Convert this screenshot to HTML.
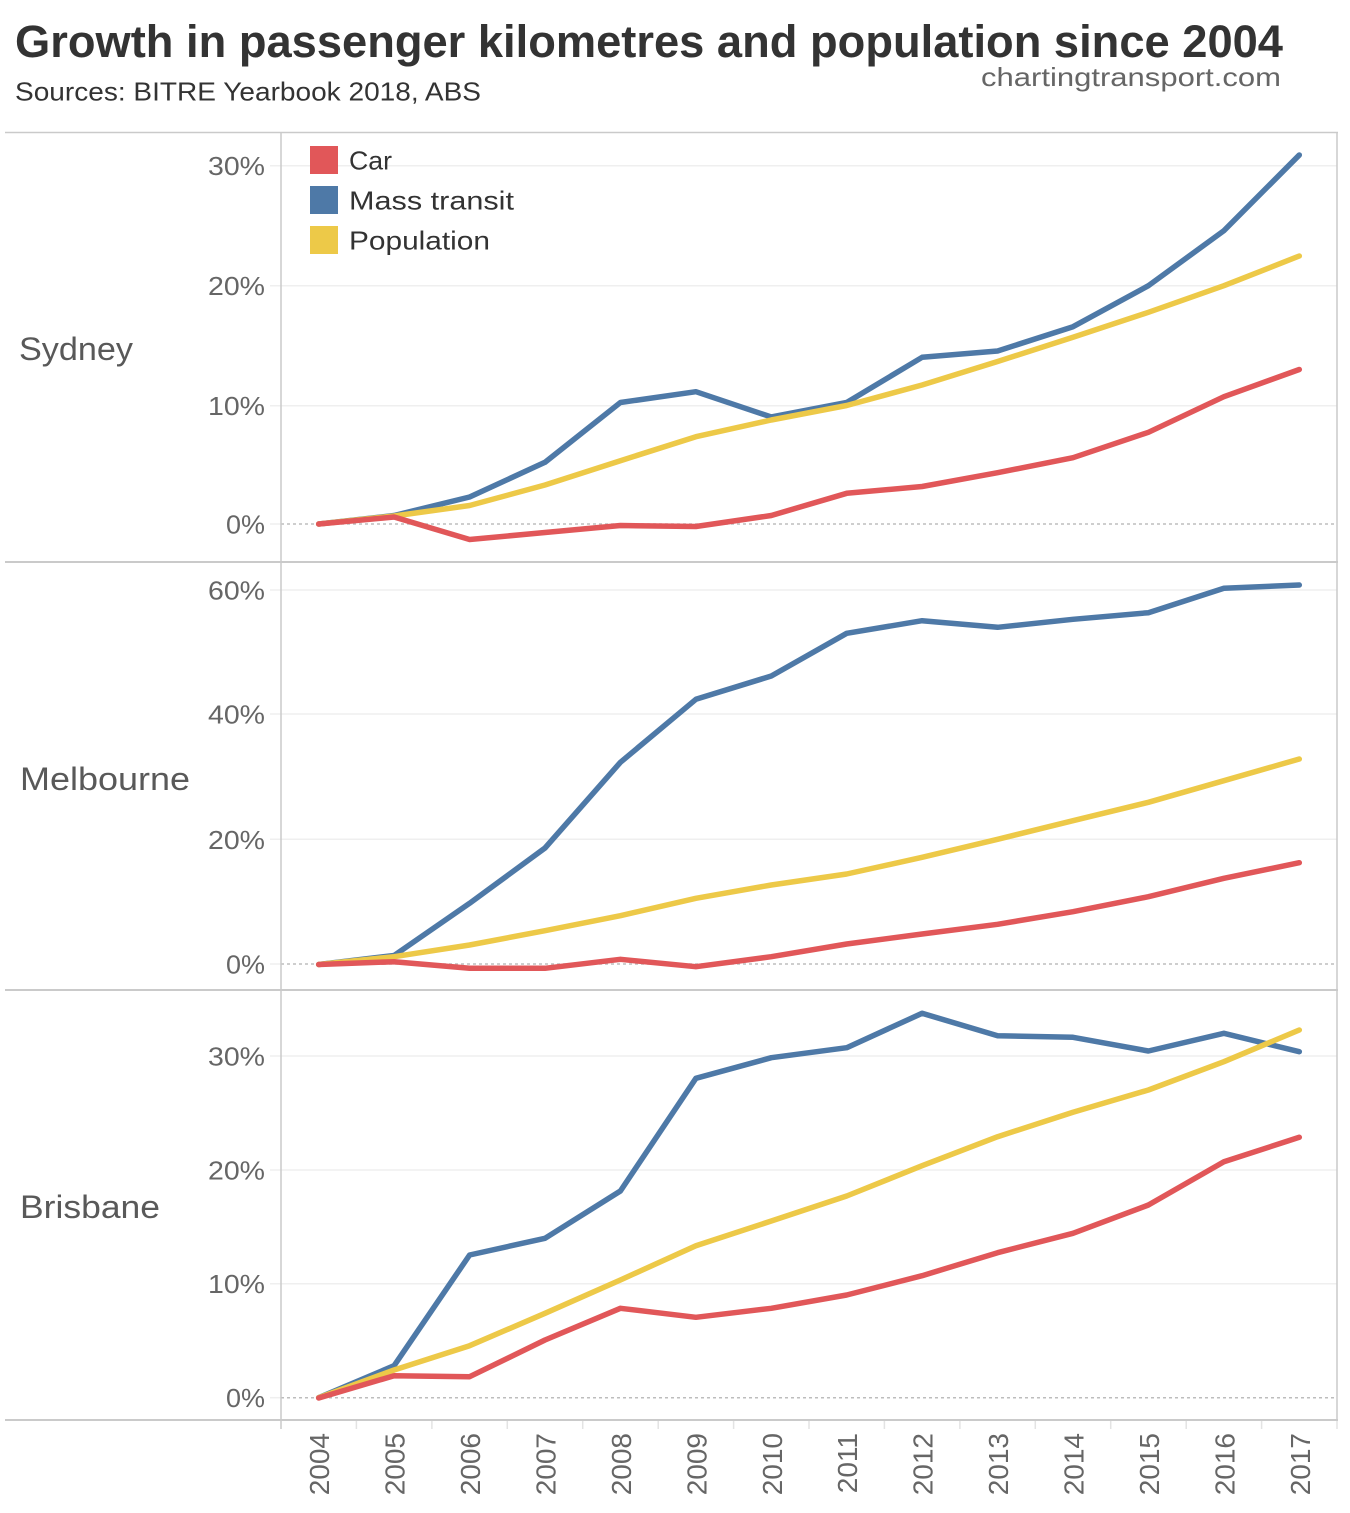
<!DOCTYPE html>
<html><head><meta charset="utf-8"><style>
html,body{margin:0;padding:0;background:#fff;}
svg{display:block;}
text{font-family:"Liberation Sans",Arial,sans-serif;}
</style></head><body>
<svg width="1350" height="1513" viewBox="0 0 1350 1513" xmlns="http://www.w3.org/2000/svg">
<rect width="1350" height="1513" fill="#fff"/>
<!-- Title -->
<text x="15" y="57" font-size="45" font-weight="bold" fill="#333" textLength="1268" lengthAdjust="spacingAndGlyphs">Growth in passenger kilometres and population since 2004</text>
<text x="15" y="100.5" font-size="26" fill="#333" textLength="466" lengthAdjust="spacingAndGlyphs">Sources: BITRE Yearbook 2018, ABS</text>
<text x="981" y="86" font-size="26" fill="#666" textLength="300" lengthAdjust="spacingAndGlyphs">chartingtransport.com</text>

<!-- gridlines -->
<g stroke="#efefef" stroke-width="1.5">
<line x1="270" y1="165.7" x2="1337" y2="165.7"/>
<line x1="270" y1="285.7" x2="1337" y2="285.7"/>
<line x1="270" y1="405.7" x2="1337" y2="405.7"/>
<line x1="270" y1="524" x2="281" y2="524"/>
<line x1="270" y1="590" x2="1337" y2="590"/>
<line x1="270" y1="714" x2="1337" y2="714"/>
<line x1="270" y1="839.3" x2="1337" y2="839.3"/>
<line x1="270" y1="964" x2="281" y2="964"/>
<line x1="270" y1="1056" x2="1337" y2="1056"/>
<line x1="270" y1="1170" x2="1337" y2="1170"/>
<line x1="270" y1="1283.7" x2="1337" y2="1283.7"/>
<line x1="270" y1="1397.7" x2="281" y2="1397.7"/>
</g>
<!-- zero lines dashed -->
<g stroke="#bdbdbd" stroke-width="1.5" stroke-dasharray="3,3">
<line x1="281" y1="524" x2="1337" y2="524"/>
<line x1="281" y1="964" x2="1337" y2="964"/>
<line x1="281" y1="1397.7" x2="1337" y2="1397.7"/>
</g>

<!-- frame -->
<g stroke="#cacaca">
<line x1="5" y1="132.5" x2="1338" y2="132.5" stroke-width="1.5"/>
<line x1="5" y1="562" x2="1338" y2="562" stroke-width="2"/>
<line x1="5" y1="990" x2="1338" y2="990" stroke-width="2"/>
<line x1="5" y1="1420" x2="1338" y2="1420" stroke-width="2"/>
<line x1="281" y1="132" x2="281" y2="1429" stroke-width="1.5"/>
<line x1="1337" y1="132" x2="1337" y2="1420" stroke-width="1.5"/>
</g>
<!-- x ticks -->
<g stroke="#e3e3e3" stroke-width="1.5">
<line x1="356.4" y1="1421" x2="356.4" y2="1429"/>
<line x1="431.9" y1="1421" x2="431.9" y2="1429"/>
<line x1="507.3" y1="1421" x2="507.3" y2="1429"/>
<line x1="582.7" y1="1421" x2="582.7" y2="1429"/>
<line x1="658.2" y1="1421" x2="658.2" y2="1429"/>
<line x1="733.6" y1="1421" x2="733.6" y2="1429"/>
<line x1="809.0" y1="1421" x2="809.0" y2="1429"/>
<line x1="884.4" y1="1421" x2="884.4" y2="1429"/>
<line x1="959.9" y1="1421" x2="959.9" y2="1429"/>
<line x1="1035.3" y1="1421" x2="1035.3" y2="1429"/>
<line x1="1110.7" y1="1421" x2="1110.7" y2="1429"/>
<line x1="1186.2" y1="1421" x2="1186.2" y2="1429"/>
<line x1="1261.6" y1="1421" x2="1261.6" y2="1429"/>
<line x1="1337" y1="1421" x2="1337" y2="1429"/>
</g>

<!-- y labels -->
<g font-size="26" fill="#666" text-anchor="end">
<text x="265" y="175.2" textLength="57" lengthAdjust="spacingAndGlyphs">30%</text>
<text x="265" y="295.2" textLength="57" lengthAdjust="spacingAndGlyphs">20%</text>
<text x="265" y="415.2" textLength="57" lengthAdjust="spacingAndGlyphs">10%</text>
<text x="265" y="533.5" textLength="39" lengthAdjust="spacingAndGlyphs">0%</text>
<text x="265" y="599.5" textLength="57" lengthAdjust="spacingAndGlyphs">60%</text>
<text x="265" y="723.5" textLength="57" lengthAdjust="spacingAndGlyphs">40%</text>
<text x="265" y="848.8" textLength="57" lengthAdjust="spacingAndGlyphs">20%</text>
<text x="265" y="973.5" textLength="39" lengthAdjust="spacingAndGlyphs">0%</text>
<text x="265" y="1065.5" textLength="57" lengthAdjust="spacingAndGlyphs">30%</text>
<text x="265" y="1179.5" textLength="57" lengthAdjust="spacingAndGlyphs">20%</text>
<text x="265" y="1293.2" textLength="57" lengthAdjust="spacingAndGlyphs">10%</text>
<text x="265" y="1407.2" textLength="39" lengthAdjust="spacingAndGlyphs">0%</text>
</g>

<!-- pane labels -->
<g font-size="32" fill="#595959">
<text x="19" y="360" textLength="114" lengthAdjust="spacingAndGlyphs">Sydney</text>
<text x="20" y="790" textLength="170" lengthAdjust="spacingAndGlyphs">Melbourne</text>
<text x="20" y="1218" textLength="140" lengthAdjust="spacingAndGlyphs">Brisbane</text>
</g>

<!-- x labels -->
<g font-size="28" fill="#666" text-anchor="end">
<text transform="translate(329.2,1433) rotate(-90)">2004</text>
<text transform="translate(404.6,1433) rotate(-90)">2005</text>
<text transform="translate(480.1,1433) rotate(-90)">2006</text>
<text transform="translate(555.5,1433) rotate(-90)">2007</text>
<text transform="translate(630.9,1433) rotate(-90)">2008</text>
<text transform="translate(706.4,1433) rotate(-90)">2009</text>
<text transform="translate(781.8,1433) rotate(-90)">2010</text>
<text transform="translate(857.2,1433) rotate(-90)">2011</text>
<text transform="translate(932.6,1433) rotate(-90)">2012</text>
<text transform="translate(1008.1,1433) rotate(-90)">2013</text>
<text transform="translate(1083.5,1433) rotate(-90)">2014</text>
<text transform="translate(1158.9,1433) rotate(-90)">2015</text>
<text transform="translate(1234.4,1433) rotate(-90)">2016</text>
<text transform="translate(1309.8,1433) rotate(-90)">2017</text>
</g>

<!-- series -->
<g fill="none" stroke-width="5.5" stroke-linejoin="round" stroke-linecap="round">
<!-- Sydney -->
<polyline stroke="#4e79a7" points="318.7,524 394.1,515.5 469.6,497 545.0,462.3 620.4,402.5 695.9,391.7 771.3,417 846.7,402.5 922.1,357.3 997.6,351 1073.0,326.7 1148.4,285.7 1223.9,230.7 1299.3,155"/>
<polyline stroke="#edc948" points="318.7,524 394.1,516 469.6,505.5 545.0,485 620.4,460.7 695.9,436.7 771.3,420 846.7,405.5 922.1,385 997.6,361.5 1073.0,337.3 1148.4,312.3 1223.9,285.7 1299.3,256"/>
<polyline stroke="#e15759" points="318.7,524 394.1,517 469.6,539.5 545.0,532.5 620.4,525.5 695.9,526.5 771.3,515.5 846.7,493.3 922.1,486.5 997.6,472.7 1073.0,457.7 1148.4,432.3 1223.9,396.7 1299.3,369.5"/>
<!-- Melbourne -->
<polyline stroke="#4e79a7" points="318.7,964.5 394.1,955.5 469.6,903.3 545.0,848 620.4,762.3 695.9,699.3 771.3,676 846.7,633.3 922.1,620.7 997.6,627.3 1073.0,619.3 1148.4,612.7 1223.9,588.3 1299.3,585"/>
<polyline stroke="#edc948" points="318.7,964.5 394.1,956.7 469.6,945 545.0,930.7 620.4,915.7 695.9,898.3 771.3,885 846.7,874 922.1,857.3 997.6,839.3 1073.0,820.7 1148.4,802.3 1223.9,780.7 1299.3,759"/>
<polyline stroke="#e15759" points="318.7,964.5 394.1,961.7 469.6,968.3 545.0,968.3 620.4,959.3 695.9,966.7 771.3,956.7 846.7,944 922.1,934 997.6,924.3 1073.0,911.7 1148.4,896.7 1223.9,878.3 1299.3,862.7"/>
<!-- Brisbane -->
<polyline stroke="#4e79a7" points="318.7,1397.7 394.1,1365.7 469.6,1255 545.0,1238.3 620.4,1191 695.9,1078.3 771.3,1057.7 846.7,1047.7 922.1,1013.3 997.6,1035.7 1073.0,1037.3 1148.4,1051 1223.9,1033.3 1299.3,1051.7"/>
<polyline stroke="#edc948" points="318.7,1397.7 394.1,1370 469.6,1345.7 545.0,1313.3 620.4,1280 695.9,1245.7 771.3,1221 846.7,1196 922.1,1165.7 997.6,1136.7 1073.0,1112.3 1148.4,1090 1223.9,1061.7 1299.3,1030"/>
<polyline stroke="#e15759" points="318.7,1398 394.1,1375.7 469.6,1376.7 545.0,1340 620.4,1308.3 695.9,1317.3 771.3,1308.3 846.7,1295 922.1,1275.7 997.6,1252.7 1073.0,1233.3 1148.4,1205 1223.9,1161.7 1299.3,1137.3"/>
</g>

<!-- legend -->
<rect x="310" y="146" width="28" height="28" fill="#e15759"/>
<rect x="310" y="186" width="28" height="28" fill="#4e79a7"/>
<rect x="310" y="226" width="28" height="28" fill="#edc948"/>
<g font-size="26" fill="#333">
<text x="349" y="169.5" textLength="43" lengthAdjust="spacingAndGlyphs">Car</text>
<text x="349" y="209.5" textLength="165" lengthAdjust="spacingAndGlyphs">Mass transit</text>
<text x="349" y="249.5" textLength="141" lengthAdjust="spacingAndGlyphs">Population</text>
</g>
</svg>
</body></html>
